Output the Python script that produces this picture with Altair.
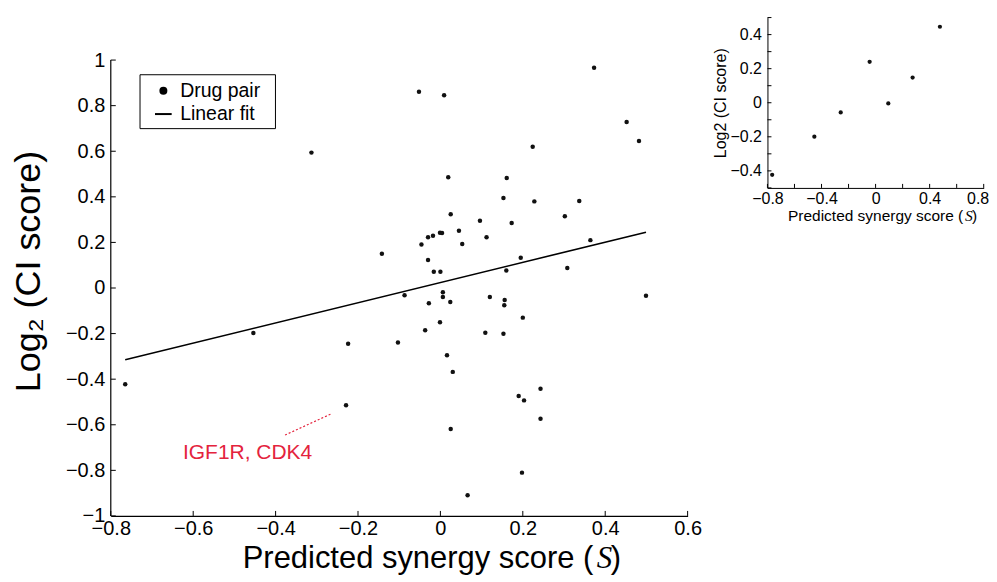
import altair as alt
import pandas as pd

FONT = "Liberation Sans"
SERIF = "Liberation Serif"
RED = "#e4233d"
INK = "#111111"

# ---------------- data ----------------
synergy = [-0.765, -0.454, -0.313, -0.229, -0.224, -0.142, -0.103, -0.087, -0.052, -0.046,
           -0.037, -0.030, -0.018, -0.030, -0.028, -0.016, 0.000, -0.001, 0.004, -0.001,
           0.006, 0.006, 0.009, 0.016, 0.019, 0.024, 0.025, 0.025, 0.030, 0.045,
           0.053, 0.066, 0.096, 0.109, 0.112, 0.120, 0.153, 0.153, 0.156, 0.155,
           0.160, 0.161, 0.173, 0.190, 0.195, 0.198, 0.200, 0.203, 0.224, 0.228,
           0.243, 0.243, 0.302, 0.308, 0.337, 0.364, 0.373, 0.452, 0.482, 0.499]
log2ci = [-0.422, -0.197, 0.594, -0.514, -0.245, 0.150, -0.239, -0.032, 0.861, 0.191,
          -0.185, 0.223, 0.229, 0.123, -0.067, 0.071, 0.071, 0.242, 0.241, -0.150,
          -0.019, -0.039, 0.846, -0.295, 0.486, -0.061, 0.324, -0.619, -0.368, 0.251,
          0.193, -0.909, 0.295, -0.196, 0.223, -0.039, 0.395, -0.201, -0.053, -0.076,
          0.077, 0.483, 0.285, -0.474, 0.133, -0.810, -0.130, -0.493, 0.620, 0.380,
          -0.442, -0.574, 0.315, 0.088, 0.382, 0.210, 0.966, 0.728, 0.645, -0.034]

fit_x = [-0.765, 0.499]
fit_y = [-0.315, 0.245]

annot_label = "IGF1R, CDK4"
annot_pos_x = [-0.468]
annot_pos_y = [-0.725]
annot_line_x = [-0.377, -0.266]
annot_line_y = [-0.645, -0.553]

legend_labels = ["Drug pair", "Linear fit"]

inset_x = [-0.765, -0.453, -0.258, -0.044, 0.094, 0.274, 0.476]
inset_y = [-0.423, -0.199, -0.057, 0.240, -0.004, 0.148, 0.446]

main_xticks = [-0.8, -0.6, -0.4, -0.2, 0, 0.2, 0.4, 0.6]
main_yticks = [-1, -0.8, -0.6, -0.4, -0.2, 0, 0.2, 0.4, 0.6, 0.8, 1]
main_y_extent = [-1, 1]

inset_xlabels = [-0.8, -0.4, 0, 0.4, 0.8]
inset_xticks = [-0.8, -0.6, -0.4, -0.2, 0, 0.2, 0.4, 0.6, 0.8]
inset_ylabels = [-0.4, -0.2, 0, 0.2, 0.4]
inset_yticks = [-0.5, -0.4, -0.3, -0.2, -0.1, 0, 0.1, 0.2, 0.3, 0.4, 0.5]

x_title_parts = ["Predicted synergy score (", "S", ")"]
main_y_title = "Log\u2082 (CI score)"
inset_y_title = "Log2 (CI score)"

# ---------------- main panel ----------------
W, H = 578, 499.4
xs = alt.Scale(domain=[-0.8, 0.6], nice=False, zero=False)
ys = alt.Scale(domain=[-1, 1.1865], nice=False, zero=False)
one = pd.DataFrame({"k": [0]})

main_xaxis = alt.Axis(
    values=main_xticks, format="~g", title=None, ticks=False, tickSize=0,
    labelFontSize=20, labelPadding=3, labelFlush=False, labelOverlap=False,
    domain=True, domainColor="black", domainWidth=1.2, grid=False,
    labelColor="black", labelFont=FONT)
main_yaxis = alt.Axis(
    values=main_yticks, format="~g", title=main_y_title, domain=False,
    ticks=False, tickSize=0, labelFontSize=20, labelPadding=6,
    labelOverlap=False, grid=False, labelColor="black", labelFont=FONT,
    titleFont=FONT, titleFontSize=36, titleFontWeight="normal",
    titleColor="black", titleX=-82, titleY=254, titleAngle=270,
    titleBaseline="middle", titleAlign="center")


def MX(field):
    return alt.X(field, scale=xs, axis=main_xaxis, title=None)


def MY(field):
    return alt.Y(field, scale=ys, axis=main_yaxis, title=main_y_title)


df = pd.DataFrame({"S": synergy, "CI": log2ci})
points = alt.Chart(df).mark_circle(size=20, color=INK, opacity=1).encode(
    x=MX("S:Q"), y=MY("CI:Q"))

yline = alt.Chart(pd.DataFrame({"a": [main_y_extent[0]], "b": [main_y_extent[1]]})).mark_rule(
    color="black", strokeWidth=1.2).encode(
    x=alt.value(0), y=MY("a:Q"), y2="b:Q")

mxt = alt.Chart(pd.DataFrame({"t": main_xticks})).mark_rule(color="black", strokeWidth=1).encode(
    x=MX("t:Q"), y=alt.value(H), y2=alt.value(H - 5))
myt = alt.Chart(pd.DataFrame({"t": main_yticks})).mark_rule(color="black", strokeWidth=1).encode(
    y=MY("t:Q"), x=alt.value(0), x2=alt.value(5))

fit = alt.Chart(pd.DataFrame({"x": fit_x, "y": fit_y})).mark_line(color="black", strokeWidth=1.6).encode(
    x=MX("x:Q"), y=MY("y:Q"))

ann_line = alt.Chart(pd.DataFrame({"x": annot_line_x, "y": annot_line_y})).mark_line(
    color=RED, strokeDash=[2, 2], strokeWidth=1.2).encode(x=MX("x:Q"), y=MY("y:Q"))
ann_text = alt.Chart(pd.DataFrame({"x": annot_pos_x, "y": annot_pos_y, "label": [annot_label]})).mark_text(
    color=RED, fontSize=21, font=FONT, align="center", baseline="middle").encode(
    x=MX("x:Q"), y=MY("y:Q"), text="label:N")

leg_box = alt.Chart(one).mark_rect(fill="white", stroke="black", strokeWidth=1).encode(
    x=alt.value(29.3), x2=alt.value(165), y=alt.value(57.3), y2=alt.value(111.3))
leg_dot = alt.Chart(one).mark_circle(size=64, color="black", opacity=1).encode(
    x=alt.value(52.7), y=alt.value(73.3))
leg_line = alt.Chart(one).mark_rule(color="black", strokeWidth=2).encode(
    x=alt.value(44.3), x2=alt.value(61), y=alt.value(96.7))
leg_t1 = alt.Chart(one).mark_text(align="left", baseline="alphabetic", fontSize=19.5, font=FONT,
                                  color="black").encode(
    x=alt.value(69.5), y=alt.value(80), text=alt.value(legend_labels[0]))
leg_t2 = alt.Chart(one).mark_text(align="left", baseline="alphabetic", fontSize=19.5, font=FONT,
                                  color="black").encode(
    x=alt.value(69.5), y=alt.value(102.3), text=alt.value(legend_labels[1]))

TY = 551.5
xt1 = alt.Chart(one).mark_text(align="right", baseline="alphabetic", fontSize=31, font=FONT,
                               color="black").encode(
    x=alt.value(483.5), y=alt.value(TY), text=alt.value(x_title_parts[0]))
xt2 = alt.Chart(one).mark_text(align="left", baseline="alphabetic", fontSize=31, font=SERIF,
                               fontStyle="italic", color="black").encode(
    x=alt.value(487), y=alt.value(TY), text=alt.value(x_title_parts[1]))
xt3 = alt.Chart(one).mark_text(align="left", baseline="alphabetic", fontSize=31, font=FONT,
                               color="black").encode(
    x=alt.value(501), y=alt.value(TY), text=alt.value(x_title_parts[2]))

main = alt.layer(points, yline, mxt, myt, fit, ann_line, ann_text,
                 leg_box, leg_dot, leg_line, leg_t1, leg_t2, xt1, xt2, xt3).properties(width=W, height=H)

# ---------------- inset panel ----------------
IW, IH = 216.7, 170.7
ixs = alt.Scale(domain=[-0.8, 0.8], nice=False, zero=False)
iys = alt.Scale(domain=[-0.5, 0.5], nice=False, zero=False)
idf = pd.DataFrame({"S": inset_x, "CI": inset_y})

last_label = "datum.value > 0.79"
inset_xaxis = alt.Axis(
    values=inset_xlabels, format="~g", title=None, ticks=False, tickSize=0,
    labelFontSize=16, labelPadding=3, labelFlush=False, labelOverlap=False,
    labelAlign=alt.condition(last_label, alt.value("right"), alt.value("center")),
    labelOffset=alt.condition(last_label, alt.value(5), alt.value(0)),
    domainColor="black", domainWidth=1, grid=False, labelColor="black", labelFont=FONT)
inset_yaxis = alt.Axis(
    values=inset_ylabels, format="~g", title=inset_y_title, ticks=False, tickSize=0,
    labelFontSize=16, labelPadding=6, labelOverlap=False, domainColor="black",
    domainWidth=1, grid=False, labelColor="black", labelFont=FONT,
    titleFont=FONT, titleFontSize=16, titleFontWeight="normal", titleColor="black",
    titleX=-47, titleY=IH / 2, titleAngle=270, titleBaseline="middle", titleAlign="center")


def IX(field):
    return alt.X(field, scale=ixs, axis=inset_xaxis, title=None)


def IY(field):
    return alt.Y(field, scale=iys, axis=inset_yaxis, title=inset_y_title)


ipoints = alt.Chart(idf).mark_circle(size=18, color=INK, opacity=1).encode(
    x=IX("S:Q"), y=IY("CI:Q"))
ixt = alt.Chart(pd.DataFrame({"t": inset_xticks})).mark_rule(color="black", strokeWidth=1).encode(
    x=IX("t:Q"), y=alt.value(IH), y2=alt.value(IH - 4))
iyt = alt.Chart(pd.DataFrame({"t": inset_yticks})).mark_rule(color="black", strokeWidth=1).encode(
    y=IY("t:Q"), x=alt.value(0), x2=alt.value(4))

ixt1 = alt.Chart(one).mark_text(align="right", baseline="alphabetic", fontSize=15.5, font=FONT,
                                color="black").encode(
    x=alt.value(196.2), y=alt.value(203.5), text=alt.value(x_title_parts[0]))
ixt2 = alt.Chart(one).mark_text(align="left", baseline="alphabetic", fontSize=15.5, font=SERIF,
                                fontStyle="italic", color="black").encode(
    x=alt.value(198), y=alt.value(203.5), text=alt.value(x_title_parts[1]))
ixt3 = alt.Chart(one).mark_text(align="left", baseline="alphabetic", fontSize=15.5, font=FONT,
                                color="black").encode(
    x=alt.value(205), y=alt.value(203.5), text=alt.value(x_title_parts[2]))

inset = alt.layer(ipoints, ixt, iyt, ixt1, ixt2, ixt3).properties(width=IW, height=IH)

chart = alt.hconcat(main, inset, spacing=11).properties(
    padding={"left": 3, "top": 8, "right": 0, "bottom": 0}
).configure_view(stroke=None).configure_axis(labelFont=FONT, titleFont=FONT)

chart.save("out.html", embed_options={"renderer": "svg", "actions": False})
